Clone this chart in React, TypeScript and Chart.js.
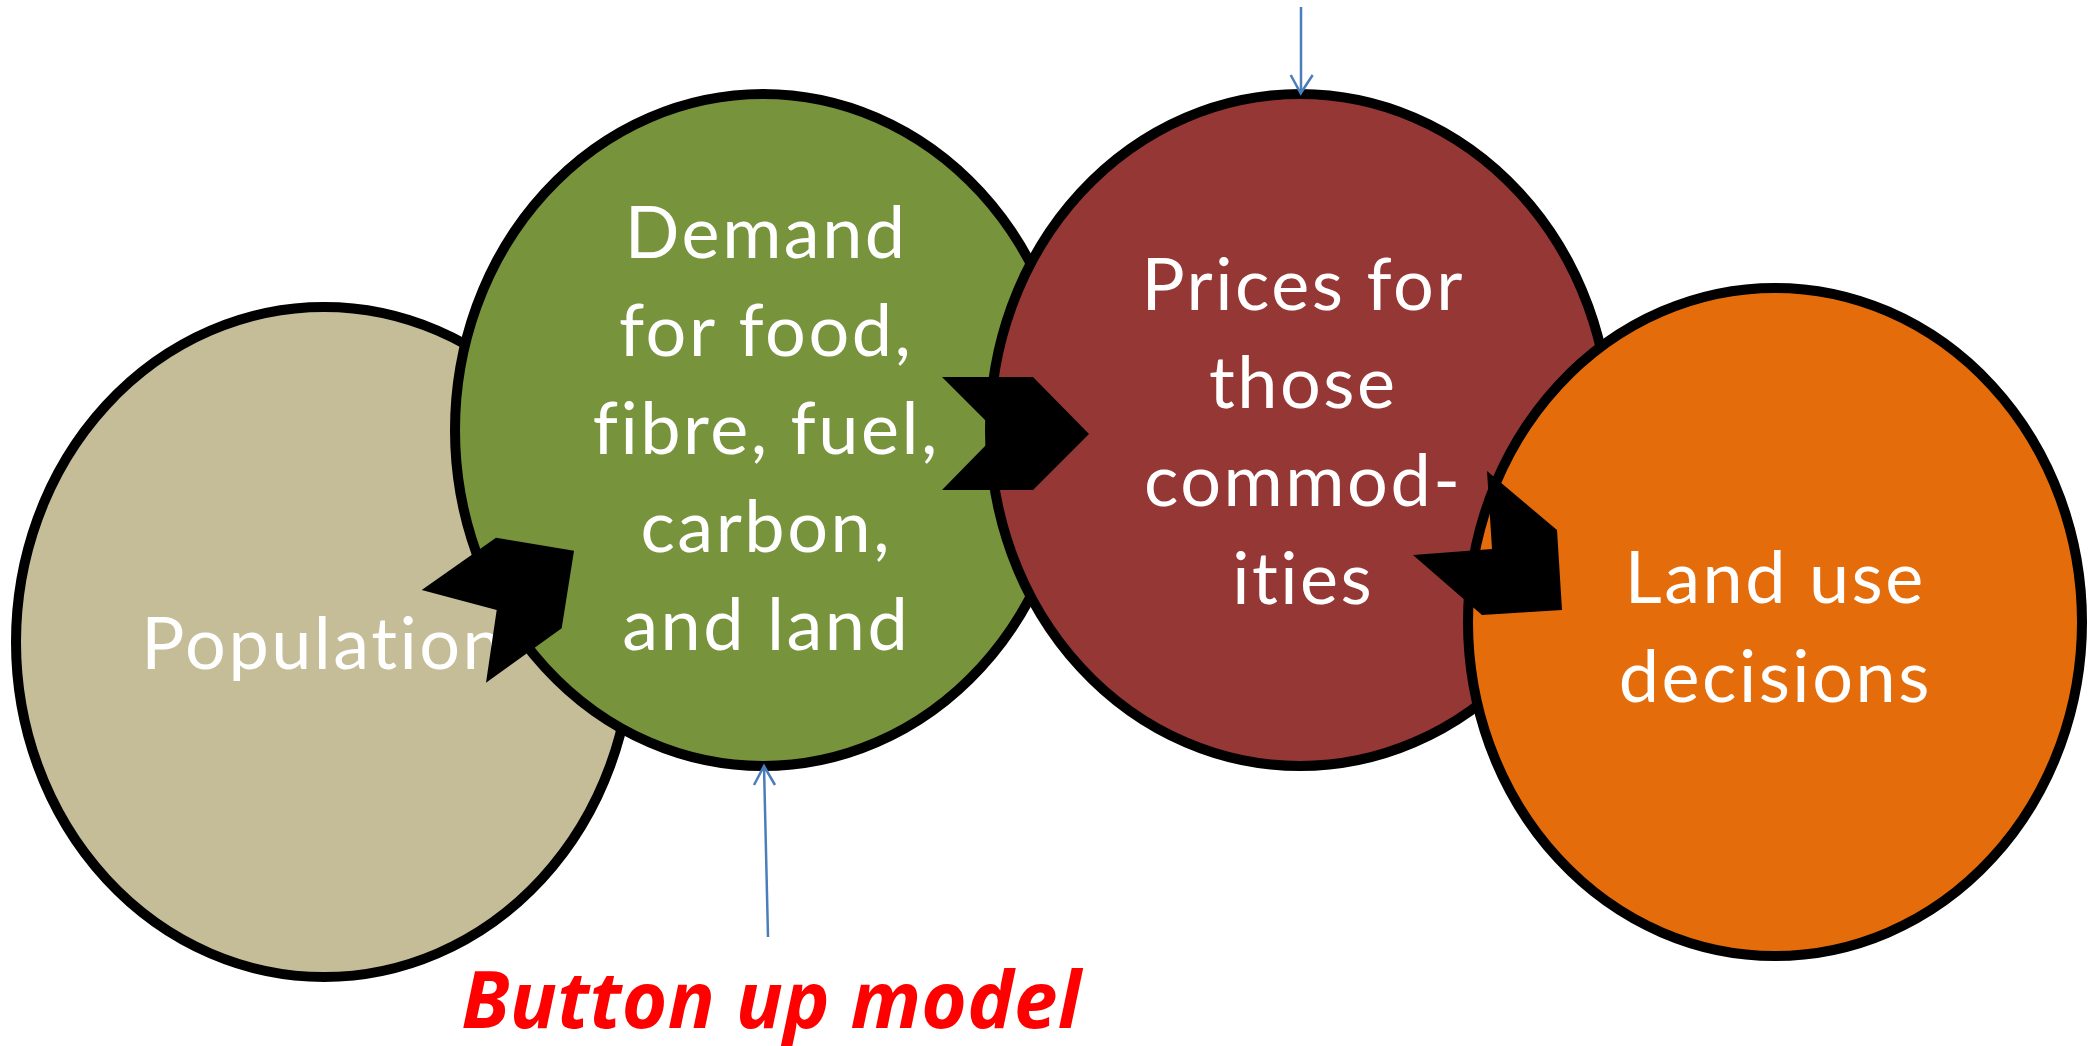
import React, { useEffect, useRef } from "react";
import { Chart, registerables } from "chart.js";

Chart.register(...registerables);

// ---- Diagram data (in chart units: x 0..2098, y 0..1046 top-down) ----
const nodeNames = ["Population", "Demand", "Prices", "Land use"];
const nodeCenterX = [324, 763, 1300, 1775];
const nodeCenterY = [642, 430, 430, 622];
const nodeRadiusX = [308, 308, 310, 307];
const nodeRadiusY = [335, 336, 336, 334];
const nodeColors = ["#C4BD97", "#77933C", "#953735", "#E46C0A"];

const nodeLines = [
  ["Population"],
  ["Demand", "for food,", "fibre, fuel,", "carbon,", "and land"],
  ["Prices for", "those", "commod-", "ities"],
  ["Land use", "decisions"],
];
const labelCenterX = [322, 765, 1302, 1774];
const labelFirstBaseline = [669, 258, 310, 603];
const labelLineStep = [0, 98, 98, 99];

// Block arrows (polygon vertices)
const arrow1X = [421.7, 496, 574, 561.7, 486, 496.7];
const arrow1Y = [590, 537.7, 550.7, 628.3, 682.7, 610];
const arrow2X = [942, 1033, 1089, 1033, 942, 988, 988];
const arrow2Y = [377, 377, 434, 490, 490, 443, 423];
const arrow3X = [1413, 1482, 1562, 1557, 1487, 1492];
const arrow3Y = [555, 615, 610, 530, 471, 549];
const blockArrowsX = [arrow1X, arrow2X, arrow3X];
const blockArrowsY = [arrow1Y, arrow2Y, arrow3Y];

// Thin connector arrows
const topLineX = [1301, 1301];
const topLineY = [7, 93];
const topHeadX = [1290.7, 1300.7, 1312.7];
const topHeadY = [75, 93.3, 75];
const bottomLineX = [768, 764];
const bottomLineY = [937, 766];
const bottomHeadX = [754, 764, 775];
const bottomHeadY = [785, 766, 785];

const captionText = "Button up model";
const captionX = 771;
const captionY = 1028;
const captionWidth = 620;

const toPoints = (xs: number[], ys: number[]) => xs.map((x, i) => ({ x, y: ys[i] }));

const diagramPlugin = {
  id: "diagram",
  beforeDatasetsDraw(chart: any) {
    const { ctx, scales } = chart;
    const sx = scales.x;
    const sy = scales.y;
    ctx.save();
    // ellipses
    for (let i = 0; i < nodeNames.length; i++) {
      const cx = sx.getPixelForValue(nodeCenterX[i]);
      const cy = sy.getPixelForValue(nodeCenterY[i]);
      const rx = Math.abs(sx.getPixelForValue(nodeCenterX[i] + nodeRadiusX[i]) - cx);
      const ry = Math.abs(sy.getPixelForValue(nodeCenterY[i] + nodeRadiusY[i]) - cy);
      ctx.beginPath();
      ctx.ellipse(cx, cy, rx, ry, 0, 0, Math.PI * 2);
      ctx.fillStyle = nodeColors[i];
      ctx.fill();
      ctx.lineWidth = 10;
      ctx.strokeStyle = "#000000";
      ctx.stroke();
    }
    // labels
    ctx.fillStyle = "#FFFFFF";
    ctx.textAlign = "center";
    ctx.textBaseline = "alphabetic";
    ctx.font = '72px "Lato", "Open Sans", sans-serif';
    (ctx as any).letterSpacing = "2.5px";
    for (let i = 0; i < nodeLines.length; i++) {
      nodeLines[i].forEach((line, j) => {
        const x = sx.getPixelForValue(labelCenterX[i]);
        const y = sy.getPixelForValue(labelFirstBaseline[i] + j * labelLineStep[i]);
        ctx.fillText(line, x + 1.25, y);
      });
    }
    // caption
    ctx.fillStyle = "#FF0000";
    ctx.font = 'italic bold 78px "Open Sans", "Lato", sans-serif';
    (ctx as any).letterSpacing = "0px";
    const natural = ctx.measureText(captionText).width;
    const cxPix = sx.getPixelForValue(captionX);
    const cyPix = sy.getPixelForValue(captionY);
    if (natural < captionWidth) {
      const ls = (captionWidth - natural) / captionText.length;
      (ctx as any).letterSpacing = ls + "px";
      ctx.fillText(captionText, cxPix + ls / 2, cyPix);
    } else {
      ctx.fillText(captionText, cxPix, cyPix, captionWidth);
    }
    (ctx as any).letterSpacing = "0px";
    ctx.restore();
  },
  afterDatasetsDraw(chart: any) {
    const { ctx, scales } = chart;
    const sx = scales.x;
    const sy = scales.y;
    ctx.save();
    ctx.fillStyle = "#000000";
    for (let k = 0; k < blockArrowsX.length; k++) {
      const xs = blockArrowsX[k];
      const ys = blockArrowsY[k];
      ctx.beginPath();
      xs.forEach((x, i) => {
        const px = sx.getPixelForValue(x);
        const py = sy.getPixelForValue(ys[i]);
        if (i === 0) ctx.moveTo(px, py);
        else ctx.lineTo(px, py);
      });
      ctx.closePath();
      ctx.fill();
    }
    ctx.restore();
  },
};

export default function App() {
  const canvasRef = useRef<HTMLCanvasElement | null>(null);

  useEffect(() => {
    document.body.style.margin = "0";
    const canvas = canvasRef.current;
    if (!canvas) return;
    const blue = "#4A7EBB";
    const lineDs = (xs: number[], ys: number[]) => ({
      data: toPoints(xs, ys),
      showLine: true,
      borderColor: blue,
      borderWidth: 2.5,
      pointRadius: 0,
      fill: false,
      tension: 0,
    });
    const chart = new Chart(canvas, {
      type: "scatter",
      data: {
        datasets: [
          lineDs(topLineX, topLineY),
          lineDs(topHeadX, topHeadY),
          lineDs(bottomLineX, bottomLineY),
          lineDs(bottomHeadX, bottomHeadY),
        ],
      },
      options: {
        responsive: false,
        animation: false,
        devicePixelRatio: 1,
        layout: { padding: 0 },
        scales: {
          x: { type: "linear", min: 0, max: 2098, display: false },
          y: { type: "linear", min: 0, max: 1046, reverse: true, display: false },
        },
        plugins: {
          legend: { display: false },
          tooltip: { enabled: false },
        },
      },
      plugins: [diagramPlugin],
    } as any);
    return () => chart.destroy();
  }, []);

  return (
    <div style={{ position: "absolute", left: 0, top: 0, width: 2098, height: 1046, background: "#FFFFFF" }}>
      <canvas ref={canvasRef} width={2098} height={1046} style={{ display: "block" }} />
    </div>
  );
}
